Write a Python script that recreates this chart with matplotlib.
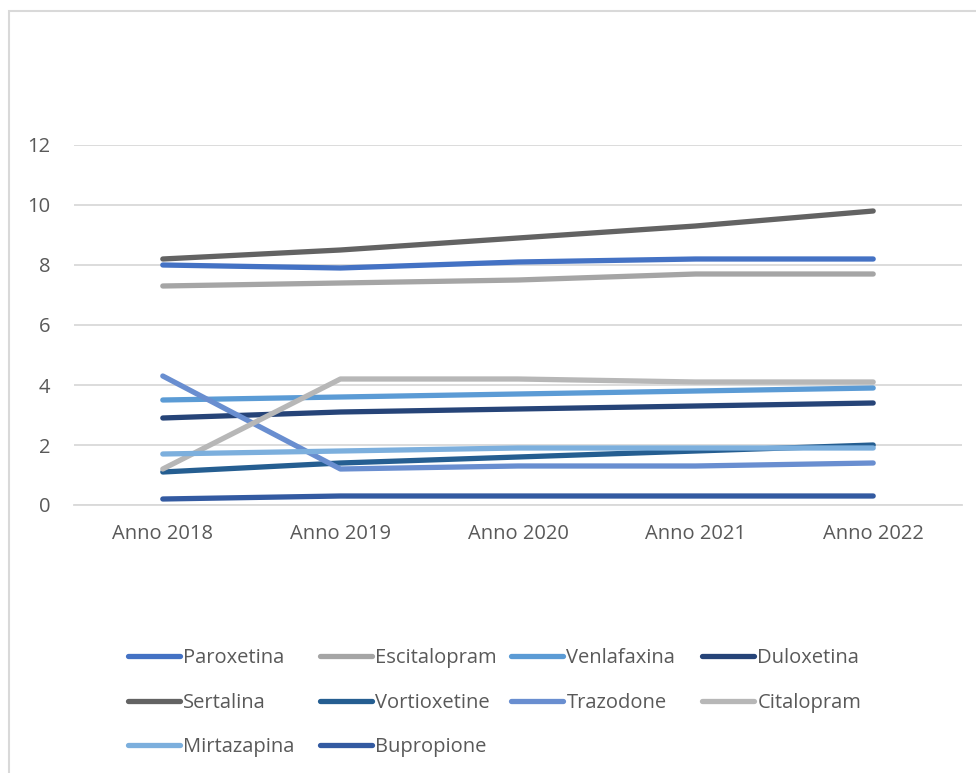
import matplotlib
matplotlib.use("Agg")
import matplotlib.pyplot as plt
from matplotlib.patches import Rectangle

years = ["Anno 2018", "Anno 2019", "Anno 2020", "Anno 2021", "Anno 2022"]

paroxetina = [8.0, 7.9, 8.1, 8.2, 8.2]
escitalopram = [7.3, 7.4, 7.5, 7.7, 7.7]
venlafaxina = [3.5, 3.6, 3.7, 3.8, 3.9]
duloxetina = [2.9, 3.1, 3.2, 3.3, 3.4]
sertalina = [8.2, 8.5, 8.9, 9.3, 9.8]
vortioxetine = [1.1, 1.4, 1.6, 1.8, 2.0]
trazodone = [4.3, 1.2, 1.3, 1.3, 1.4]
citalopram = [1.2, 4.2, 4.2, 4.1, 4.1]
mirtazapina = [1.7, 1.8, 1.9, 1.9, 1.9]
bupropione = [0.2, 0.3, 0.3, 0.3, 0.3]

series = [
    ("Paroxetina", paroxetina, "#4472C4"),
    ("Escitalopram", escitalopram, "#A5A5A5"),
    ("Venlafaxina", venlafaxina, "#5B9BD5"),
    ("Duloxetina", duloxetina, "#264478"),
    ("Sertalina", sertalina, "#636363"),
    ("Vortioxetine", vortioxetine, "#255E91"),
    ("Trazodone", trazodone, "#698ED0"),
    ("Citalopram", citalopram, "#B7B7B7"),
    ("Mirtazapina", mirtazapina, "#7CAFDD"),
    ("Bupropione", bupropione, "#335AA1"),
]

plt.rcParams["font.family"] = ["Open Sans", "DejaVu Sans"]
text_color = "#595959"
grid_color = "#D9D9D9"
fs = 14.5

W, H = 976, 773
fig = plt.figure(figsize=(W / 100, H / 100), dpi=100)
fig.patch.set_facecolor("white")

# outer chart frame
fig.patches.append(Rectangle((8.5 / W, -0.05), 1.2, 1 - 11 / H + 0.05,
                             transform=fig.transFigure, fill=False,
                             edgecolor=grid_color, linewidth=1.5))

ax = fig.add_axes([74 / W, 1 - 505 / H, (962 - 74) / W, (505 - 145) / H])
x = list(range(len(years)))
handles = []
for name, vals, col in series:
    (ln,) = ax.plot(x, vals, color=col, linewidth=3.8,
                    solid_capstyle="round", solid_joinstyle="round", label=name)
    handles.append(ln)

ax.set_xlim(-0.5, len(years) - 0.5)
ax.set_ylim(0, 12)
ax.set_yticks(range(0, 13, 2))
ax.set_xticks(x)
ax.set_xticklabels(years)
ax.yaxis.grid(True, color=grid_color, linewidth=1.3)
ax.set_axisbelow(True)
for s in ["top", "right", "left"]:
    ax.spines[s].set_visible(False)
ax.spines["bottom"].set_color(grid_color)
ax.spines["bottom"].set_linewidth(1.3)
ax.tick_params(axis="both", length=0, labelsize=fs, labelcolor=text_color)
ax.tick_params(axis="y", pad=17)
ax.tick_params(axis="x", pad=14)

# legend laid out as four columns, row by row
col_x = [126, 318, 509, 700]
for c in range(4):
    idx = [i for i in range(c, len(series), 4)]
    fig.legend([handles[i] for i in idx], [series[i][0] for i in idx],
               loc="upper left",
               bbox_to_anchor=((col_x[c] + 2) / W, 1 - 648 / H),
               frameon=False, fontsize=fs, handlelength=2.6,
               handletextpad=0.15, labelspacing=1.22,
               borderpad=0, borderaxespad=0, labelcolor=text_color)

fig.savefig("out.png", dpi=100)
